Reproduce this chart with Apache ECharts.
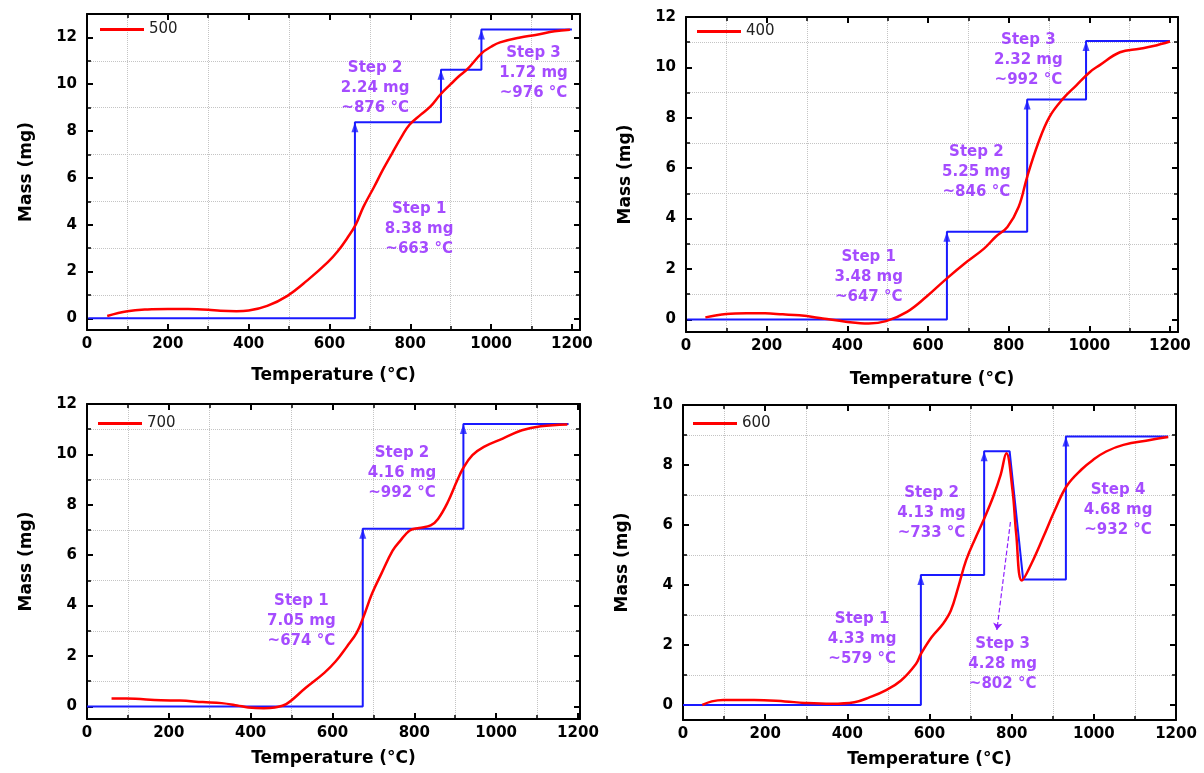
<!DOCTYPE html>
<html>
<head>
<meta charset="utf-8">
<script src="https://cdn.jsdelivr.net/npm/echarts@6/dist/echarts.min.js"></script>
<style>
  html, body { margin: 0; padding: 0; background: #fff; }
  #chart { width: 1204px; height: 773px; }
</style>
</head>
<body>
<div id="chart"></div>
<script>
// tick values
const xMajor = [0, 200, 400, 600, 800, 1000, 1200];
const xMinor = [100, 300, 500, 700, 900, 1100];
const yMajor12 = [0, 2, 4, 6, 8, 10, 12];
const yMinor12 = [1, 3, 5, 7, 9, 11];
const yMajor10 = [0, 2, 4, 6, 8, 10];
const yMinor10 = [1, 3, 5, 7, 9];

// red mass curves (temperature in °C, mass in mg)
const temp500 = [50, 100, 150, 200, 250, 300, 330, 370, 400, 446, 496, 546, 596, 620, 645, 665, 684, 710, 732, 755, 779, 798, 826, 850, 874, 900, 921, 940, 977, 1000, 1022, 1072, 1110, 1157, 1195];
const mass500 = [0.1, 0.3, 0.38, 0.4, 0.4, 0.37, 0.32, 0.3, 0.33, 0.53, 0.96, 1.63, 2.4, 2.85, 3.45, 4.0, 4.76, 5.6, 6.34, 7.05, 7.77, 8.27, 8.7, 9.05, 9.55, 10.0, 10.35, 10.62, 11.33, 11.6, 11.79, 12.0, 12.1, 12.26, 12.33];

const temp400 = [48, 100, 150, 196, 240, 281, 339, 396, 453, 496, 548, 596, 647, 691, 739, 768, 797, 825, 846, 873, 901, 935, 968, 1001, 1025, 1076, 1125, 1159, 1200];
const mass400 = [0.08, 0.21, 0.24, 0.24, 0.2, 0.16, 0.04, -0.09, -0.16, -0.07, 0.3, 0.9, 1.63, 2.22, 2.81, 3.28, 3.67, 4.47, 5.66, 6.98, 8.03, 8.76, 9.29, 9.81, 10.08, 10.6, 10.74, 10.85, 11.03];

const temp700 = [60, 97, 181, 227, 283, 329, 367, 394, 432, 459, 487, 534, 580, 608, 636, 659, 675, 696, 719, 747, 766, 789, 812, 840, 858, 882, 905, 919, 942, 970, 1016, 1063, 1109, 1174];
const mass700 = [0.31, 0.31, 0.24, 0.23, 0.17, 0.13, 0.04, -0.04, -0.07, -0.04, 0.09, 0.73, 1.33, 1.79, 2.39, 2.92, 3.52, 4.45, 5.25, 6.18, 6.58, 6.98, 7.08, 7.18, 7.44, 8.11, 8.97, 9.44, 9.97, 10.3, 10.63, 10.96, 11.12, 11.19];

const temp600 = [47, 70, 98, 173, 248, 295, 361, 417, 455, 492, 530, 567, 579, 605, 633, 652, 670, 689, 713, 733, 755, 773, 787, 802, 811, 825, 848, 877, 905, 934, 970, 998, 1030, 1072, 1137, 1181];
const mass600 = [0, 0.12, 0.17, 0.17, 0.12, 0.07, 0.04, 0.09, 0.26, 0.48, 0.81, 1.37, 1.7, 2.26, 2.71, 3.15, 3.93, 4.82, 5.6, 6.21, 6.94, 7.66, 8.39, 7.16, 5.71, 4.15, 4.71, 5.6, 6.49, 7.3, 7.85, 8.17, 8.45, 8.67, 8.83, 8.93];

// blue step profiles
const blueT500 = [3, 663, 663, 876, 876, 976, 976, 1200];
const blueM500 = [0, 0, 8.38, 8.38, 10.62, 10.62, 12.34, 12.34];
const blueT400 = [3, 647, 647, 846, 846, 992, 992, 1200];
const blueM400 = [0, 0, 3.48, 3.48, 8.73, 8.73, 11.05, 11.05];
const blueT700 = [0, 674, 674, 920, 920, 1177];
const blueM700 = [0, 0, 7.05, 7.05, 11.21, 11.21];
const blueT600 = [0, 579, 579, 733, 733, 795, 828, 932, 932, 1181];
const blueM600 = [0, 0, 4.33, 4.33, 8.46, 8.46, 4.18, 4.18, 8.95, 8.95];

// step annotations
const noteText500 = ['Step 1\n8.38 mg\n~663 °C', 'Step 2\n2.24 mg\n~876 °C', 'Step 3\n1.72 mg\n~976 °C'];
const noteX500 = [822, 713, 1105];
const noteY500 = [3.83, 9.85, 10.47];
const noteText400 = ['Step 1\n3.48 mg\n~647 °C', 'Step 2\n5.25 mg\n~846 °C', 'Step 3\n2.32 mg\n~992 °C'];
const noteX400 = [453, 720, 849];
const noteY400 = [1.69, 5.85, 10.28];
const noteText700 = ['Step 1\n7.05 mg\n~674 °C', 'Step 2\n4.16 mg\n~992 °C'];
const noteX700 = [524, 770];
const noteY700 = [3.39, 9.24];
const noteText600 = ['Step 1\n4.33 mg\n~579 °C', 'Step 2\n4.13 mg\n~733 °C', 'Step 3\n4.28 mg\n~802 °C', 'Step 4\n4.68 mg\n~932 °C'];
const noteX600 = [436, 605, 778, 1059];
const noteY600 = [2.2, 6.38, 1.37, 6.49];
const pointer600 = [[797, 6.1], [764, 2.5]];

const FONT = 'DejaVu Sans';
const PURPLE = '#8f1fff';
const BLUE = '#1a1aff';
const RED = '#ff0000';

const panels = [
  { name: '500', grid: { left: 87, top: 14, width: 493, height: 316 }, xMax: 1220, yMax: 13,
    yMajor: yMajor12, yMinor: yMinor12, temp: temp500, mass: mass500, blueT: blueT500, blueM: blueM500,
    noteText: noteText500, noteX: noteX500, noteY: noteY500, legend: { left: 100, top: 22 }, yGap: 52, xGap: 37 },
  { name: '400', grid: { left: 686, top: 17, width: 492, height: 315 }, xMax: 1220, yMax: 12,
    yMajor: yMajor12, yMinor: yMinor12, temp: temp400, mass: mass400, blueT: blueT400, blueM: blueM400,
    noteText: noteText400, noteX: noteX400, noteY: noteY400, legend: { left: 697, top: 24 }, yGap: 52, xGap: 39 },
  { name: '700', grid: { left: 87, top: 404, width: 493, height: 315 }, xMax: 1205, yMax: 12,
    yMajor: yMajor12, yMinor: yMinor12, temp: temp700, mass: mass700, blueT: blueT700, blueM: blueM700,
    noteText: noteText700, noteX: noteX700, noteY: noteY700, legend: { left: 98, top: 416 }, yGap: 52, xGap: 31 },
  { name: '600', grid: { left: 683, top: 405, width: 493, height: 315 }, xMax: 1200, yMax: 10,
    yMajor: yMajor10, yMinor: yMinor10, temp: temp600, mass: mass600, blueT: blueT600, blueM: blueM600,
    noteText: noteText600, noteX: noteX600, noteY: noteY600, legend: { left: 693, top: 416 }, yGap: 52, xGap: 31,
    pointer: pointer600 }
];

function zip(a, b) {
  return a.map((v, i) => [v, b[i]]);
}

// four axes per side pair: main (labels + major ticks), minor ticks + dotted grid, mirrored major, mirrored minor
function makeAxes(dim, gi, p) {
  const isX = dim === 'x';
  const min = isX ? 0 : -0.5;
  const max = isX ? p.xMax : p.yMax;
  const major = isX ? xMajor : p.yMajor;
  const minor = isX ? xMinor : p.yMinor;
  const sides = isX ? ['bottom', 'top'] : ['left', 'right'];
  const out = [];
  sides.forEach((pos, si) => {
    [major, minor].forEach((vals, k) => {
      const main = si === 0 && k === 0;
      out.push({
        type: 'value',
        gridIndex: gi,
        position: pos,
        min: min,
        max: max,
        name: main ? (isX ? 'Temperature (°C)' : 'Mass (mg)') : '',
        nameLocation: 'middle',
        nameGap: isX ? p.xGap : p.yGap,
        nameRotate: isX ? 0 : 90,
        nameTextStyle: { fontFamily: FONT, fontWeight: 'bold', fontSize: 17, color: '#000' },
        axisLine: { show: k === 0, onZero: false, lineStyle: { color: '#000', width: 2 } },
        axisTick: {
          show: true, inside: true, length: k === 0 ? 6 : 4, customValues: vals,
          lineStyle: { color: '#000', width: k === 0 ? 2 : 1.5 }
        },
        axisLabel: main
          ? { show: true, customValues: major, margin: isX ? 7 : 10, formatter: (v) => String(v),
              fontFamily: FONT, fontWeight: 'bold', fontSize: 15, color: '#000' }
          : { show: false },
        splitLine: { show: si === 0 && k === 1, lineStyle: { color: '#c4c4c4', type: 'dotted', width: 1 } }
      });
    });
  });
  return out;
}

const grid = [], xAxis = [], yAxis = [], series = [], legend = [];

panels.forEach((p, gi) => {
  grid.push(p.grid);
  xAxis.push(...makeAxes('x', gi, p));
  yAxis.push(...makeAxes('y', gi, p));
  const ax = { xAxisIndex: gi * 4, yAxisIndex: gi * 4 };

  // arrow heads at the top of each rising step
  const tops = [];
  for (let i = 1; i < p.blueT.length; i++) {
    if (p.blueT[i] === p.blueT[i - 1] && p.blueM[i] > p.blueM[i - 1]) tops.push([p.blueT[i], p.blueM[i]]);
  }

  series.push({
    type: 'line', ...ax, data: zip(p.blueT, p.blueM), showSymbol: false, silent: true, z: 2,
    lineStyle: { color: BLUE, width: 2 }
  });
  series.push({
    type: 'scatter', ...ax, data: tops, symbol: 'triangle', symbolSize: [7, 10], symbolOffset: [0, '50%'],
    itemStyle: { color: BLUE }, silent: true, z: 3
  });
  series.push({
    name: p.name, type: 'line', ...ax, data: zip(p.temp, p.mass), showSymbol: false, smooth: 0.4,
    lineStyle: { color: RED, width: 2.5 }, itemStyle: { color: RED }, z: 4
  });
  const notes = {
    type: 'scatter', ...ax, symbolSize: 0, silent: true, z: 5,
    data: p.noteX.map((x, i) => [x, p.noteY[i]]),
    label: {
      show: true, position: 'inside', formatter: (d) => p.noteText[d.dataIndex],
      fontFamily: FONT, fontWeight: 'bold', fontSize: 15, lineHeight: 20, color: PURPLE, align: 'center'
    }
  };
  if (p.pointer) {
    notes.markLine = {
      silent: true, symbol: ['none', 'arrow'], symbolSize: 7,
      label: { show: false },
      lineStyle: { color: PURPLE, type: 'dashed', width: 1.2 },
      data: [[{ coord: p.pointer[0] }, { coord: p.pointer[1] }]]
    };
  }
  series.push(notes);

  legend.push({
    data: [p.name], left: p.legend.left, top: p.legend.top, padding: 0,
    icon: 'rect', itemWidth: 44, itemHeight: 3, selectedMode: false,
    textStyle: { fontFamily: FONT, fontSize: 15, color: '#222' }
  });
});

const chart = echarts.init(document.getElementById('chart'));
chart.setOption({
  animation: false,
  backgroundColor: '#fff',
  grid: grid,
  xAxis: xAxis,
  yAxis: yAxis,
  legend: legend,
  series: series
});
</script>
</body>
</html>
